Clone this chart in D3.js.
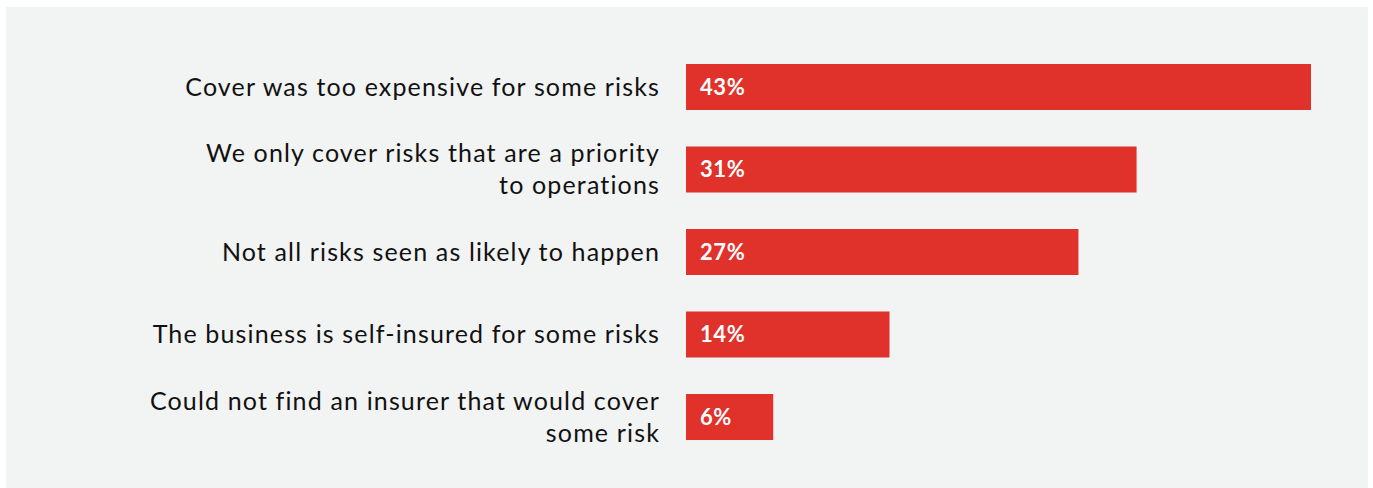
<!DOCTYPE html>
<html>
<head>
<meta charset="utf-8">
<script src="https://cdn.jsdelivr.net/npm/d3@7"></script>
<style>
  html, body { margin: 0; padding: 0; background: #ffffff; }
  svg { display: block; }
</style>
</head>
<body>
<svg id="chart" width="1373" height="488"></svg>
<script>
// Reasons for leaving some risks uninsured (% of respondents)
const categories = [
  ["Cover was too expensive for some risks"],
  ["We only cover risks that are a priority", "to operations"],
  ["Not all risks seen as likely to happen"],
  ["The business is self-insured for some risks"],
  ["Could not find an insurer that would cover", "some risk"]
];
const values = [43, 31, 27, 14, 6];
const valueLabels = ["43%", "31%", "27%", "14%", "6%"];

const svg = d3.select("#chart");

// panel background
svg.append("rect")
  .attr("x", 6).attr("y", 7)
  .attr("width", 1362).attr("height", 481)
  .attr("fill", "#f2f3f3");

const x = d3.scaleLinear().domain([0, 43]).range([686, 1311]);
const y = d3.scaleBand()
  .domain(d3.range(values.length))
  .range([64, 440])
  .paddingInner(0.4424)
  .paddingOuter(0);

const rows = svg.append("g").selectAll("g")
  .data(values.map((v, i) => ({ v, i, lines: categories[i], label: valueLabels[i] })))
  .join("g");

rows.append("rect")
  .attr("x", x(0))
  .attr("y", d => y(d.i))
  .attr("width", d => x(d.v) - x(0))
  .attr("height", y.bandwidth())
  .attr("fill", "#e0312a");

rows.append("text")
  .attr("x", x(0) + 14)
  .attr("y", d => y(d.i) + y.bandwidth() / 2)
  .attr("dy", "0.36em")
  .attr("fill", "#ffffff")
  .attr("font-family", "Lato, 'Open Sans', sans-serif")
  .attr("font-weight", 700)
  .attr("font-size", 22)
  .attr("letter-spacing", 0.6)
  .text(d => d.label);

const lineH = 32;
rows.append("text")
  .attr("text-anchor", "end")
  .attr("fill", "#111111")
  .attr("font-family", "Lato, 'Open Sans', sans-serif")
  .attr("font-weight", 400)
  .attr("font-size", 25)
  .attr("letter-spacing", 1.15)
  .each(function(d) {
    const t = d3.select(this);
    const cy = y(d.i) + y.bandwidth() / 2;
    const n = d.lines.length;
    d.lines.forEach((ln, k) => {
      t.append("tspan")
        .attr("x", 660)
        .attr("y", cy + (k - (n - 1) / 2) * lineH)
        .attr("dy", "0.35em")
        .text(ln);
    });
  });
</script>
</body>
</html>
